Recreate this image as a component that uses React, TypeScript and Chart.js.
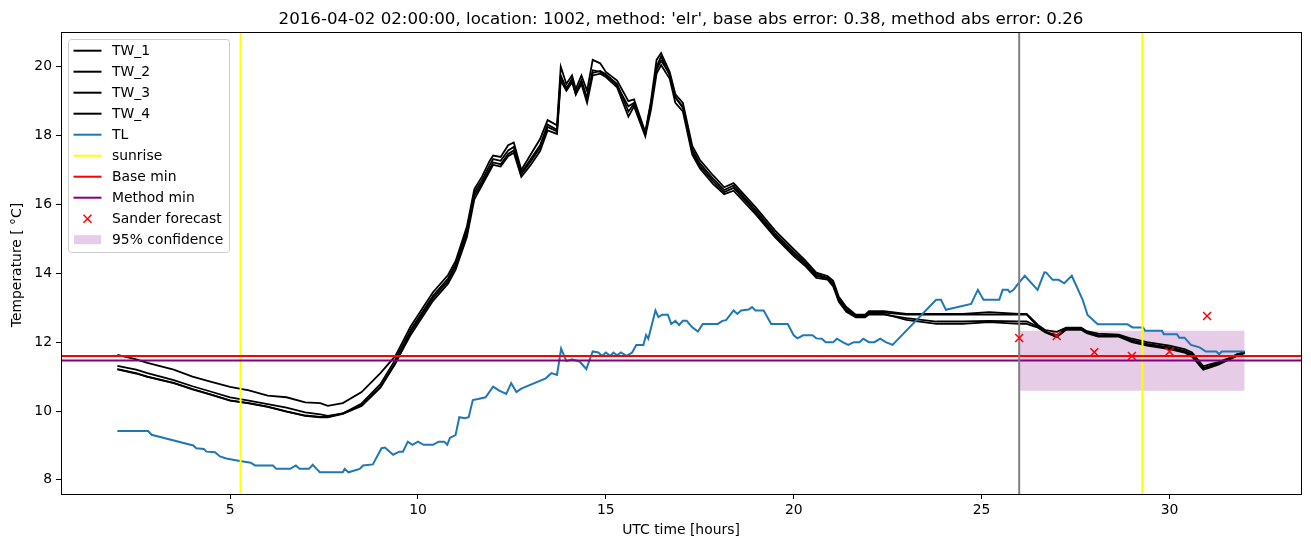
import React, { useEffect, useRef } from "react";
import { Chart, registerables } from "chart.js";

Chart.register(...registerables);

const TITLE =
  "2016-04-02 02:00:00, location: 1002, method: 'elr', base abs error: 0.38, method abs error: 0.26";
const X_LABEL = "UTC time [hours]";
const Y_LABEL = "Temperature [ °C]";

const X_MIN = 0.5;
const X_MAX = 33.5;
const Y_MIN = 7.59;
const Y_MAX = 21.01;
const xTicks = [5, 10, 15, 20, 25, 30];
const yTicks = [8, 10, 12, 14, 16, 18, 20];

const twHours = [
  2.0, 2.5, 2.8, 3.5, 4.0, 4.5, 5.0, 5.5, 6.0, 6.5,
  7.0, 7.4, 7.6, 8.0, 8.5, 9.0, 9.4, 9.8, 10.1, 10.4,
  10.8, 11.0, 11.3, 11.5, 11.7, 11.9, 12.0, 12.2, 12.4, 12.55,
  12.75, 13.0, 13.25, 13.45, 13.7, 13.8, 13.95, 14.1, 14.2, 14.35,
  14.5, 14.65, 14.85, 15.0, 15.3, 15.6, 15.75, 16.05, 16.2, 16.35,
  16.47, 16.7, 16.85, 17.05, 17.3, 17.5, 17.85, 18.15, 18.4, 19.0,
  19.5, 20.0, 20.3, 20.6, 20.9, 21.05, 21.2, 21.4, 21.65, 21.9,
  22.0, 22.4, 23.0, 23.8, 24.5, 25.2, 26.0, 26.2, 26.5, 26.7,
  27.0, 27.25, 27.65, 27.8, 28.1, 28.65, 29.0, 29.4, 30.0, 30.4,
  30.6, 30.9, 31.05, 31.3, 31.55, 31.8, 32.0,
];

const tw1 = [
  11.63, 11.5, 11.4, 11.2, 11.0, 10.85, 10.7, 10.6, 10.45, 10.4,
  10.25, 10.23, 10.15, 10.23, 10.55, 11.1, 11.6, 12.45, 12.95, 13.45,
  13.95, 14.35, 15.35, 16.45, 16.8, 17.25, 17.42, 17.38, 17.72, 17.8,
  17.0, 17.45, 17.9, 18.45, 18.3, 20.0, 19.5, 19.75, 19.35, 19.75,
  19.3, 20.2, 20.1, 19.85, 19.6, 19.0, 19.05, 18.1, 19.0, 20.2,
  20.4, 19.85, 19.2, 18.95, 17.7, 17.3, 16.85, 16.5, 16.62, 15.9,
  15.25, 14.7, 14.38, 14.02, 13.92, 13.78, 13.32, 13.02, 12.8, 12.8,
  12.9, 12.9, 12.82, 12.82, 12.82, 12.87, 12.82, 12.82, 12.5, 12.35,
  12.3, 12.42, 12.42, 12.32, 12.25, 12.22, 12.1, 12.0, 11.9, 11.8,
  11.7, 11.3, 11.35, 11.42, 11.52, 11.65, 11.72,
];

const tw2 = [
  11.31, 11.2, 11.1, 10.9, 10.72, 10.56, 10.4, 10.3, 10.2, 10.1,
  9.96, 9.9, 9.86, 9.93, 10.22, 10.78, 11.5, 12.35, 12.85, 13.35,
  13.85, 14.25, 15.25, 16.35, 16.7, 17.12, 17.32, 17.27, 17.57, 17.67,
  16.92, 17.32, 17.72, 18.32, 18.17, 19.75, 19.35, 19.65, 19.2, 19.6,
  19.1, 19.9, 19.85, 19.75, 19.45, 18.85, 18.95, 18.05, 18.9, 20.0,
  20.3, 19.75, 19.1, 18.85, 17.6, 17.2, 16.75, 16.42, 16.55, 15.82,
  15.17, 14.62, 14.32, 13.97, 13.87, 13.72, 13.27, 12.97, 12.76, 12.76,
  12.86, 12.86, 12.8, 12.8, 12.8, 12.8, 12.8, 12.8, 12.45, 12.3,
  12.2, 12.4, 12.4, 12.3, 12.2, 12.2, 12.05, 11.95, 11.85, 11.75,
  11.65, 11.25, 11.3, 11.4, 11.5, 11.65, 11.7,
];

const tw3 = [
  11.22, 11.1, 11.0, 10.82, 10.64, 10.48, 10.31, 10.23, 10.13, 9.99,
  9.87, 9.83, 9.83, 9.93, 10.17, 10.7, 11.4, 12.2, 12.7, 13.2,
  13.7, 14.1, 15.05, 16.15, 16.55, 16.95, 17.15, 17.1, 17.4, 17.5,
  16.8, 17.15, 17.55, 18.15, 18.05, 19.6, 19.3, 19.55, 19.2, 19.5,
  18.95, 19.75, 19.8, 19.7, 19.4, 18.55, 18.85, 17.98, 18.75, 19.8,
  20.05, 19.65, 18.95, 18.7, 17.45, 17.05, 16.6, 16.3, 16.4, 15.7,
  15.05, 14.5, 14.22, 13.87, 13.82, 13.62, 13.17, 12.88, 12.72, 12.72,
  12.8, 12.8, 12.7, 12.6, 12.6, 12.62, 12.6, 12.6, 12.45, 12.3,
  12.15, 12.38, 12.38, 12.28, 12.18, 12.18, 12.02, 11.92, 11.82, 11.72,
  11.6, 11.22, 11.28, 11.38, 11.5, 11.62, 11.7,
];

const tw4 = [
  11.21, 11.09, 10.99, 10.81, 10.63, 10.47, 10.3, 10.22, 10.12, 9.98,
  9.86, 9.82, 9.82, 9.92, 10.15, 10.68, 11.38, 12.28, 12.78, 13.28,
  13.78, 14.2, 15.15, 16.25, 16.62, 17.02, 17.22, 17.17, 17.47, 17.57,
  16.88, 17.25, 17.65, 18.25, 18.12, 19.7, 19.38, 19.62, 19.25, 19.58,
  19.05, 19.82, 19.88, 19.78, 19.5, 18.7, 18.92, 18.08, 18.92, 19.92,
  20.18, 19.78, 19.12, 18.8, 17.52, 17.12, 16.68, 16.36, 16.48, 15.76,
  15.1, 14.56, 14.27, 13.92, 13.85, 13.68, 13.22, 12.92, 12.74, 12.74,
  12.84, 12.82, 12.65, 12.53, 12.53, 12.58, 12.53, 12.53, 12.42, 12.28,
  12.15, 12.36, 12.36, 12.26, 12.16, 12.16, 12.0, 11.9, 11.8, 11.7,
  11.58, 11.2, 11.25, 11.35, 11.48, 11.6, 11.68,
];

const tlHours = [
  2.0, 2.82, 2.91, 4.02, 4.1, 4.3, 4.37, 4.6, 4.73, 4.9,
  5.26, 5.55, 5.66, 6.14, 6.23, 6.6, 6.75, 6.85, 7.1, 7.2,
  7.3, 7.39, 8.0, 8.05, 8.15, 8.45, 8.54, 8.8, 9.03, 9.12,
  9.34, 9.5, 9.6, 9.73, 9.85, 10.0, 10.15, 10.4, 10.55, 10.7,
  10.78, 10.85, 11.0, 11.1, 11.25, 11.35, 11.46, 11.6, 11.8, 12.0,
  12.15, 12.35, 12.48, 12.62, 12.75, 13.4, 13.55, 13.7, 13.81, 13.95,
  14.1, 14.3, 14.48, 14.65, 14.8, 14.9, 15.0, 15.12, 15.2, 15.3,
  15.4, 15.55, 15.7, 15.81, 16.0, 16.07, 16.13, 16.32, 16.4, 16.5,
  16.65, 16.74, 16.85, 16.95, 17.05, 17.15, 17.3, 17.45, 17.58, 17.98,
  18.1, 18.2, 18.4, 18.5, 18.6, 18.8, 18.89, 18.98, 19.2, 19.4,
  19.84, 20.0, 20.1, 20.25, 20.5, 20.6, 20.75, 20.85, 21.05, 21.15,
  21.3, 21.45, 21.6, 21.75, 21.85, 22.0, 22.15, 22.3, 22.45, 22.63,
  23.79, 23.92, 24.05, 24.72, 24.9, 25.05, 25.47, 25.56, 25.7, 25.75,
  25.85, 25.98, 26.15, 26.49, 26.67, 26.72, 26.89, 27.05, 27.2, 27.4,
  27.69, 27.82, 28.09, 28.88, 29.02, 29.3, 29.35, 29.8, 29.85, 30.2,
  30.26, 30.4, 30.57, 30.8, 30.97, 31.25, 31.32, 31.39, 32.0,
];

const tlTemps = [
  9.42, 9.42, 9.31, 9.0, 8.92, 8.9, 8.82, 8.8, 8.68, 8.62,
  8.55, 8.5, 8.42, 8.42, 8.32, 8.32, 8.42, 8.32, 8.32, 8.44,
  8.32, 8.22, 8.22, 8.32, 8.22, 8.32, 8.42, 8.45, 8.92, 8.94,
  8.73, 8.82, 8.82, 9.11, 9.02, 9.11, 9.02, 9.02, 9.11, 9.11,
  9.02, 9.22, 9.3, 9.82, 9.79, 9.82, 10.32, 10.35, 10.4, 10.71,
  10.6, 10.5, 10.81, 10.55, 10.65, 10.95, 11.1, 11.05, 11.81, 11.45,
  11.5, 11.44, 11.22, 11.73, 11.7, 11.6, 11.7, 11.6, 11.7, 11.62,
  11.7, 11.6, 11.7, 11.92, 11.92, 12.21, 12.1, 12.92, 12.73, 12.8,
  12.8, 12.53, 12.62, 12.5, 12.62, 12.62, 12.43, 12.31, 12.53, 12.53,
  12.62, 12.64, 12.92, 12.82, 12.92, 12.95, 13.02, 12.92, 12.92, 12.53,
  12.53, 12.2, 12.11, 12.2, 12.2, 12.11, 12.1, 12.0, 12.0, 12.1,
  12.0, 11.92, 12.0, 12.0, 12.1, 12.0, 12.0, 12.1, 12.0, 11.92,
  13.23, 13.23, 12.94, 13.11, 13.52, 13.23, 13.23, 13.52, 13.52, 13.45,
  13.52, 13.71, 13.93, 13.52, 14.03, 14.02, 13.81, 13.81, 13.71, 13.93,
  13.23, 12.79, 12.52, 12.52, 12.43, 12.43, 12.33, 12.33, 12.23, 12.23,
  12.13, 12.13, 11.92, 11.85, 11.73, 11.73, 11.65, 11.73, 11.73,
];

const sunriseHours = [5.28, 29.28];
const forecastStartHour = 26.0;
const baseMin = 11.6;
const methodMin = 11.47;
const forecastHours = [26, 27, 28, 29, 30, 31];
const forecastTemps = [12.12, 12.18, 11.71, 11.6, 11.73, 12.76];
const confHours = [26, 32];
const confLow = 10.59;
const confHigh = 12.33;

const legendLabels = [
  "TW_1", "TW_2", "TW_3", "TW_4", "TL", "sunrise",
  "Base min", "Method min", "Sander forecast", "95% confidence",
];

const FONT = '"DejaVu Sans", sans-serif';
const BLUE = "#1f77b4";
const CONF_COLOR = "rgba(128,0,128,0.2)";

function pts(xs: number[], ys: number[]) {
  return xs.map((x, i) => ({ x, y: ys[i] }));
}

export default function App() {
  const ref = useRef<HTMLCanvasElement>(null);

  useEffect(() => {
    document.body.style.margin = "0";
    const canvas = ref.current!;

    const overlay = {
      id: "overlay",
      afterDraw(chart: any) {
        const ctx = chart.ctx as CanvasRenderingContext2D;
        const ca = chart.chartArea;
        ctx.save();
        ctx.strokeStyle = "#000";
        ctx.lineWidth = 1;
        ctx.strokeRect(Math.round(ca.left) + 0.5, Math.round(ca.top) + 0.5,
          Math.round(ca.right) - Math.round(ca.left), Math.round(ca.bottom) - Math.round(ca.top));
        const cx = (ca.left + ca.right) / 2;
        ctx.fillStyle = "#000";
        ctx.font = `16.67px ${FONT}`;
        ctx.textAlign = "center";
        ctx.textBaseline = "alphabetic";
        ctx.fillText(TITLE, cx, 24);
        ctx.font = `13.9px ${FONT}`;
        ctx.textBaseline = "middle";
        ctx.fillText(X_LABEL, cx, 530);
        ctx.save();
        ctx.translate(17, 265);
        ctx.rotate(-Math.PI / 2);
        ctx.fillText(Y_LABEL, 0, 0);
        ctx.restore();
        const lx = 68.5, ly = 39.5, lw = 161, lh = 213, r = 3;
        ctx.beginPath();
        ctx.moveTo(lx + r, ly);
        ctx.lineTo(lx + lw - r, ly);
        ctx.arcTo(lx + lw, ly, lx + lw, ly + r, r);
        ctx.lineTo(lx + lw, ly + lh - r);
        ctx.arcTo(lx + lw, ly + lh, lx + lw - r, ly + lh, r);
        ctx.lineTo(lx + r, ly + lh);
        ctx.arcTo(lx, ly + lh, lx, ly + lh - r, r);
        ctx.lineTo(lx, ly + r);
        ctx.arcTo(lx, ly, lx + r, ly, r);
        ctx.closePath();
        ctx.fillStyle = "rgba(255,255,255,0.8)";
        ctx.fill();
        ctx.strokeStyle = "#cccccc";
        ctx.lineWidth = 1;
        ctx.stroke();
        const colors = ["#000", "#000", "#000", "#000", BLUE, "#ffff00", "#ff0000", "#800080"];
        ctx.textAlign = "left";
        ctx.textBaseline = "middle";
        ctx.font = `13.9px ${FONT}`;
        legendLabels.forEach((label, i) => {
          const y = 50.7 + i * 21.0;
          if (i < 8) {
            ctx.strokeStyle = colors[i];
            ctx.lineWidth = 2;
            ctx.beginPath();
            ctx.moveTo(73.5, y);
            ctx.lineTo(101.5, y);
            ctx.stroke();
          } else if (i === 8) {
            ctx.strokeStyle = "#ff0000";
            ctx.lineWidth = 1.5;
            ctx.beginPath();
            ctx.moveTo(83.5, y - 4);
            ctx.lineTo(91.5, y + 4);
            ctx.moveTo(91.5, y - 4);
            ctx.lineTo(83.5, y + 4);
            ctx.stroke();
          } else {
            ctx.fillStyle = CONF_COLOR;
            ctx.fillRect(74, y - 4.5, 27, 9);
          }
          ctx.fillStyle = "#000";
          ctx.fillText(label, 112, y + 1);
        });
        ctx.restore();
      },
    };

    const twLine = (label: string, ys: number[], order: number) => ({
      label,
      data: pts(twHours, ys),
      borderColor: "#000",
      borderWidth: 1.8,
      pointRadius: 0,
      fill: false,
      tension: 0,
      order,
    });

    const datasets: any[] = [
      {
        label: "95% confidence",
        data: pts(confHours, confHours.map(() => confHigh)),
        borderWidth: 0,
        borderColor: "rgba(0,0,0,0)",
        backgroundColor: CONF_COLOR,
        pointRadius: 0,
        fill: { value: confLow },
        order: 100,
      },
      twLine("TW_1", tw1, 95),
      twLine("TW_2", tw2, 94),
      twLine("TW_3", tw3, 93),
      twLine("TW_4", tw4, 92),
      {
        label: "TL",
        data: pts(tlHours, tlTemps),
        borderColor: BLUE,
        borderWidth: 2,
        pointRadius: 0,
        fill: false,
        tension: 0,
        order: 91,
      },
      ...sunriseHours.map((h, i) => ({
        label: "sunrise" + i,
        data: [{ x: h, y: Y_MIN }, { x: h, y: Y_MAX }],
        borderColor: "#ffff00",
        borderWidth: 2,
        pointRadius: 0,
        fill: false,
        order: 90 - i,
      })),
      {
        label: "Base min",
        data: [{ x: X_MIN, y: baseMin }, { x: X_MAX, y: baseMin }],
        borderColor: "#ff0000",
        borderWidth: 2,
        pointRadius: 0,
        fill: false,
        order: 85,
      },
      {
        label: "Method min",
        data: [{ x: X_MIN, y: methodMin }, { x: X_MAX, y: methodMin }],
        borderColor: "#800080",
        borderWidth: 2,
        pointRadius: 0,
        fill: false,
        order: 84,
      },
      {
        label: "forecast start",
        data: [{ x: forecastStartHour, y: Y_MIN }, { x: forecastStartHour, y: Y_MAX }],
        borderColor: "#808080",
        borderWidth: 2,
        pointRadius: 0,
        fill: false,
        order: 83,
      },
      {
        label: "Sander forecast",
        data: pts(forecastHours, forecastTemps),
        showLine: false,
        pointStyle: "crossRot",
        pointRadius: 5.6,
        borderColor: "#ff0000",
        backgroundColor: "#ff0000",
        borderWidth: 1.5,
        order: 80,
      },
    ];

    const tickFont = { family: FONT, size: 13.9 };
    const chart = new Chart(canvas, {
      type: "line",
      data: { datasets },
      options: {
        responsive: false,
        animation: false,
        devicePixelRatio: 1,
        events: [],
        layout: { padding: { top: 32, right: 10, left: 0, bottom: 0 } },
        plugins: {
          legend: { display: false },
          title: { display: false },
          tooltip: { enabled: false },
        },
        scales: {
          x: {
            type: "linear",
            min: X_MIN,
            max: X_MAX,
            afterBuildTicks: (s: any) => {
              s.ticks = xTicks.map((v) => ({ value: v }));
            },
            afterFit: (s: any) => {
              s.height = 53;
            },
            grid: { drawOnChartArea: false, drawTicks: true, tickLength: 5, color: "#000", lineWidth: 1 },
            border: { display: false },
            ticks: {
              font: tickFont,
              color: "#000",
              padding: 3,
              maxRotation: 0,
              autoSkip: false,
              callback: (v: any) => String(v),
            },
          },
          y: {
            type: "linear",
            min: Y_MIN,
            max: Y_MAX,
            afterBuildTicks: (s: any) => {
              s.ticks = yTicks.map((v) => ({ value: v }));
            },
            afterFit: (s: any) => {
              s.width = 61;
            },
            grid: { drawOnChartArea: false, drawTicks: true, tickLength: 5, color: "#000", lineWidth: 1 },
            border: { display: false },
            ticks: {
              font: tickFont,
              color: "#000",
              padding: 4,
              autoSkip: false,
              callback: (v: any) => String(v),
            },
          },
        },
      },
      plugins: [overlay],
    } as any);

    return () => chart.destroy();
  }, []);

  return <canvas ref={ref} width={1311} height={547} style={{ display: "block" }} />;
}
